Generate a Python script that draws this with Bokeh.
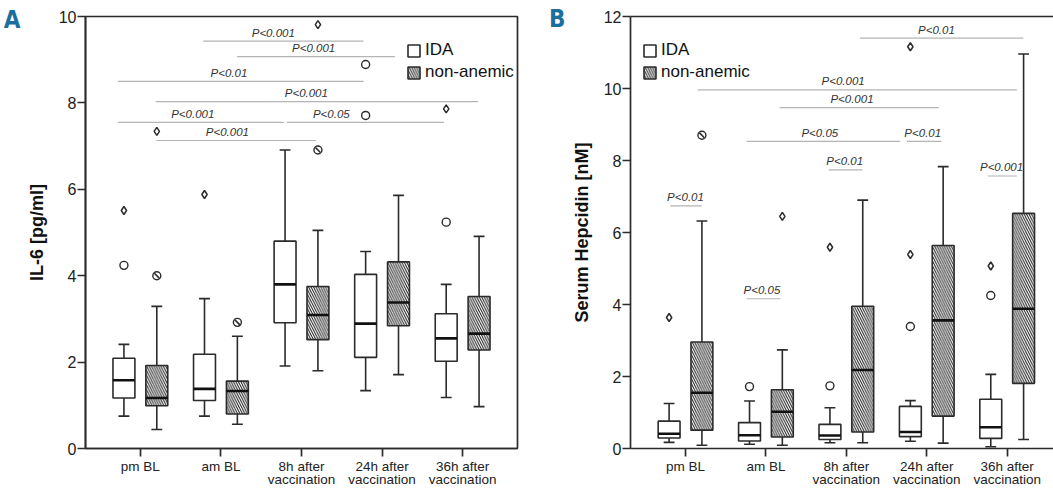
import math
from bokeh.plotting import figure
from bokeh.models import (FixedTicker, Legend, LegendItem, LinearAxis, Range1d)
from bokeh.layouts import row
from bokeh.core.properties import value
from bokeh.embed import file_html
from bokeh.resources import INLINE

groups = ["pm BL", "am BL", "8h after\nvaccination", "24h after\nvaccination", "36h after\nvaccination"]
pos = [1, 2, 3, 4, 5]

# ---- Panel A: IL-6 [pg/ml] ----
A_ida_lo = [0.75, 0.75, 1.91, 1.34, 1.18]
A_ida_q1 = [1.17, 1.11, 2.91, 2.11, 2.02]
A_ida_med = [1.58, 1.38, 3.80, 2.89, 2.55]
A_ida_q3 = [2.09, 2.18, 4.80, 4.03, 3.12]
A_ida_hi = [2.41, 3.47, 6.91, 4.56, 3.80]
A_ida_out_g = [1, 4, 4, 5]
A_ida_out_v = [4.24, 8.89, 7.71, 5.24]
A_ida_ext_g = [1, 2, 5]
A_ida_ext_v = [5.51, 5.88, 7.86]

A_non_lo = [0.44, 0.56, 1.80, 1.71, 0.97]
A_non_q1 = [0.99, 0.80, 2.52, 2.84, 2.28]
A_non_med = [1.17, 1.33, 3.09, 3.38, 2.66]
A_non_q3 = [1.92, 1.56, 3.75, 4.32, 3.52]
A_non_hi = [3.29, 2.60, 5.05, 5.86, 4.91]
A_non_out_g = [1, 2, 3]
A_non_out_v = [4.00, 2.92, 6.91]
A_non_ext_g = [1, 3]
A_non_ext_v = [7.34, 9.81]

A_sig_x0 = [1.78, 2.20, 0.72, 1.19, 0.72, 2.82, 1.20]
A_sig_x1 = [3.77, 4.16, 3.77, 5.19, 2.78, 4.77, 3.18]
A_sig_y = [9.43, 9.07, 8.50, 8.03, 7.55, 7.55, 7.13]
A_sig_tx = [2.65, 3.15, 2.10, 3.06, 1.65, 3.37, 2.08]
A_sig_text = ["P<0.001", "P<0.001", "P<0.01", "P<0.001", "P<0.001", "P<0.05", "P<0.001"]

# ---- Panel B: Serum Hepcidin [nM] ----
B_ida_lo = [0.17, 0.12, 0.16, 0.20, 0.05]
B_ida_q1 = [0.29, 0.21, 0.25, 0.33, 0.28]
B_ida_med = [0.41, 0.37, 0.36, 0.46, 0.59]
B_ida_q3 = [0.76, 0.72, 0.67, 1.17, 1.37]
B_ida_hi = [1.25, 1.32, 1.13, 1.33, 2.06]
B_ida_out_g = [2, 3, 4, 5]
B_ida_out_v = [1.72, 1.74, 3.39, 4.25]
B_ida_ext_g = [1, 3, 4, 4, 5]
B_ida_ext_v = [3.64, 5.59, 5.39, 11.16, 5.07]

B_non_lo = [0.09, 0.09, 0.16, 0.15, 0.25]
B_non_q1 = [0.51, 0.32, 0.46, 0.90, 1.81]
B_non_med = [1.55, 1.02, 2.18, 3.56, 3.88]
B_non_q3 = [2.96, 1.63, 3.95, 5.64, 6.53]
B_non_hi = [6.32, 2.74, 6.90, 7.83, 10.96]
B_non_out_g = [1]
B_non_out_v = [8.70]
B_non_ext_g = [2]
B_non_ext_v = [6.45]

B_sig_x0 = [1.15, 2.17, 1.76, 3.75, 3.17, 2.78, 4.76, 0.81, 1.76]
B_sig_x1 = [5.12, 4.15, 3.67, 4.18, 5.20, 3.20, 5.12, 1.20, 2.18]
B_sig_y = [9.96, 9.47, 8.53, 8.53, 11.40, 7.74, 7.57, 6.74, 4.16]
B_sig_tx = [2.96, 3.07, 2.67, 3.95, 4.12, 2.98, 4.93, 1.00, 1.95]
B_sig_text = ["P<0.001", "P<0.001", "P<0.05", "P<0.01", "P<0.01", "P<0.01", "P<0.001", "P<0.01", "P<0.05"]

DARK = "#2b2b2b"
GRAY = "#b4b4b4"
FONT = "Liberation Sans"
OFF = 0.204
BW = 0.272
CAP = 0.135
H = 490


def make_panel(width, xr, yr, yticks, ylabel, letter, letter_y,
               ida, non, sig, border_left, border_right, legend_loc, top_axis):
    p = figure(width=width, height=H, x_range=Range1d(*xr), y_range=Range1d(*yr),
               output_backend="svg", toolbar_location=None,
               min_border_left=border_left, min_border_right=border_right,
               min_border_top=16, min_border_bottom=42)
    p.grid.visible = False

    xa = p.below[0]
    ya = p.left[0]
    xa.ticker = FixedTicker(ticks=pos)
    xa.major_label_overrides = {k: g for k, g in zip(pos, groups)}
    ya.ticker = FixedTicker(ticks=yticks)
    for ax in [xa, ya]:
        ax.axis_line_color = DARK
        ax.axis_line_width = 1.7
        ax.major_tick_line_color = DARK
        ax.major_tick_line_width = 1.7
        ax.major_tick_out = 8
        ax.major_tick_in = 0
        ax.minor_tick_line_color = None
        ax.major_label_text_font = FONT
        ax.major_label_text_color = "#222222"
    xa.major_label_text_font_size = "13.5px"
    xa.major_label_text_line_height = 0.92
    xa.major_label_standoff = 2
    ya.major_label_text_font_size = "16px"
    ya.major_label_standoff = 1
    ya.axis_label = ylabel
    ya.axis_label_text_font = FONT
    ya.axis_label_text_font_style = "bold"
    ya.axis_label_text_font_size = "18px"
    ya.axis_label_text_color = "#111111"
    ya.axis_label_standoff = 9

    # panel letter, as the single tick label of an outer, line-less left axis
    la = LinearAxis(ticker=FixedTicker(ticks=[letter_y]),
                    major_label_overrides={letter_y: letter},
                    axis_line_color=None, major_tick_line_color=None,
                    minor_tick_line_color=None, major_tick_out=0, major_tick_in=0,
                    major_label_standoff=3,
                    major_label_text_font="DejaVu Sans Condensed",
                    major_label_text_font_style="bold",
                    major_label_text_font_size="24px",
                    major_label_text_color="#1b6f9e")
    p.add_layout(la, "left")

    if top_axis:
        p.outline_line_color = None
        ta = LinearAxis(ticker=FixedTicker(ticks=[]), axis_line_color=DARK, axis_line_width=1.7,
                        major_tick_line_color=None, minor_tick_line_color=None,
                        major_tick_out=0, major_tick_in=0,
                        major_label_text_font_size="0px", major_label_standoff=0)
        p.add_layout(ta, "above")
    else:
        p.outline_line_color = DARK
        p.outline_line_width = 1.7
        p.outline_line_alpha = 1.0

    # significance annotations
    sx0, sx1, sy, stx, stext = sig
    p.segment(x0=sx0, y0=sy, x1=sx1, y1=sy, line_color=GRAY, line_width=1.2)
    p.text(x=stx, y=sy, text=stext, text_font=value(FONT), text_font_style="italic",
           text_font_size="11.5px", text_color="#333333", text_align="center",
           text_baseline="middle", y_offset=-8.5)

    rends = []
    for (lo, q1, med, q3, hi, og, ov, eg, ev), side, hatch in [
            (ida, -1, None), (non, 1, "left_diagonal_line")]:
        xs = [g + side * OFF for g in pos]
        p.segment(x0=xs, y0=q3, x1=xs, y1=hi, line_color=DARK, line_width=1.6)
        p.segment(x0=xs, y0=q1, x1=xs, y1=lo, line_color=DARK, line_width=1.6)
        p.segment(x0=[x - CAP / 2 for x in xs], y0=hi, x1=[x + CAP / 2 for x in xs], y1=hi,
                  line_color=DARK, line_width=1.6)
        p.segment(x0=[x - CAP / 2 for x in xs], y0=lo, x1=[x + CAP / 2 for x in xs], y1=lo,
                  line_color=DARK, line_width=1.6)
        kw = {}
        if hatch:
            kw = dict(hatch_pattern=hatch, hatch_scale=4.8, hatch_color="#1a1a1a", hatch_weight=1.0)
        r = p.quad(left=[x - BW / 2 for x in xs], right=[x + BW / 2 for x in xs],
                   bottom=q1, top=q3, fill_color="white", line_color=DARK, line_width=1.6, **kw)
        rends.append(r)
        p.segment(x0=[x - BW / 2 for x in xs], y0=med, x1=[x + BW / 2 for x in xs], y1=med,
                  line_color="#111111", line_width=2.6)
        oxs = [g + side * OFF for g in og]
        p.scatter(x=oxs, y=ov, marker="circle", size=8, fill_color="white",
                  line_color=DARK, line_width=1.4)
        if hatch:
            p.scatter(x=oxs, y=ov, marker="dash", size=7, angle=-math.pi / 4,
                      line_color=DARK, line_width=1.6)
        exs = [g + side * OFF for g in eg]
        p.scatter(x=exs, y=ev, marker="diamond", size=8, fill_color="white",
                  line_color=DARK, line_width=1.5)

    legend = Legend(items=[LegendItem(label="IDA", renderers=[rends[0]]),
                           LegendItem(label="non-anemic", renderers=[rends[1]])],
                    location=legend_loc, glyph_width=15, glyph_height=15,
                    label_height=15, spacing=2, padding=0, margin=0,
                    border_line_color=None, background_fill_alpha=0,
                    label_standoff=4, label_text_font=FONT,
                    label_text_font_size="17px", label_text_color="#111111")
    p.add_layout(legend)
    return p


pA = make_panel(524, (0.319, 5.681), (0, 10), [0, 2, 4, 6, 8, 10], "IL-6 [pg/ml]",
                "A", 9.93,
                (A_ida_lo, A_ida_q1, A_ida_med, A_ida_q3, A_ida_hi,
                 A_ida_out_g, A_ida_out_v, A_ida_ext_g, A_ida_ext_v),
                (A_non_lo, A_non_q1, A_non_med, A_non_q3, A_non_hi,
                 A_non_out_g, A_non_out_v, A_non_ext_g, A_non_ext_v),
                (A_sig_x0, A_sig_x1, A_sig_y, A_sig_tx, A_sig_text),
                84, 7, (321, 366), False)

pB = make_panel(529, (0.316, 5.576), (0, 12), [0, 2, 4, 6, 8, 10, 12], "Serum Hepcidin [nM]",
                "B", 11.93,
                (B_ida_lo, B_ida_q1, B_ida_med, B_ida_q3, B_ida_hi,
                 B_ida_out_g, B_ida_out_v, B_ida_ext_g, B_ida_ext_v),
                (B_non_lo, B_non_q1, B_non_med, B_non_q3, B_non_hi,
                 B_non_out_g, B_non_out_v, B_non_ext_g, B_non_ext_v),
                (B_sig_x0, B_sig_x1, B_sig_y, B_sig_tx, B_sig_text),
                106, 0, (12, 366), True)

layout = row(pA, pB)
open("out.html", "w").write(file_html(layout, INLINE))
